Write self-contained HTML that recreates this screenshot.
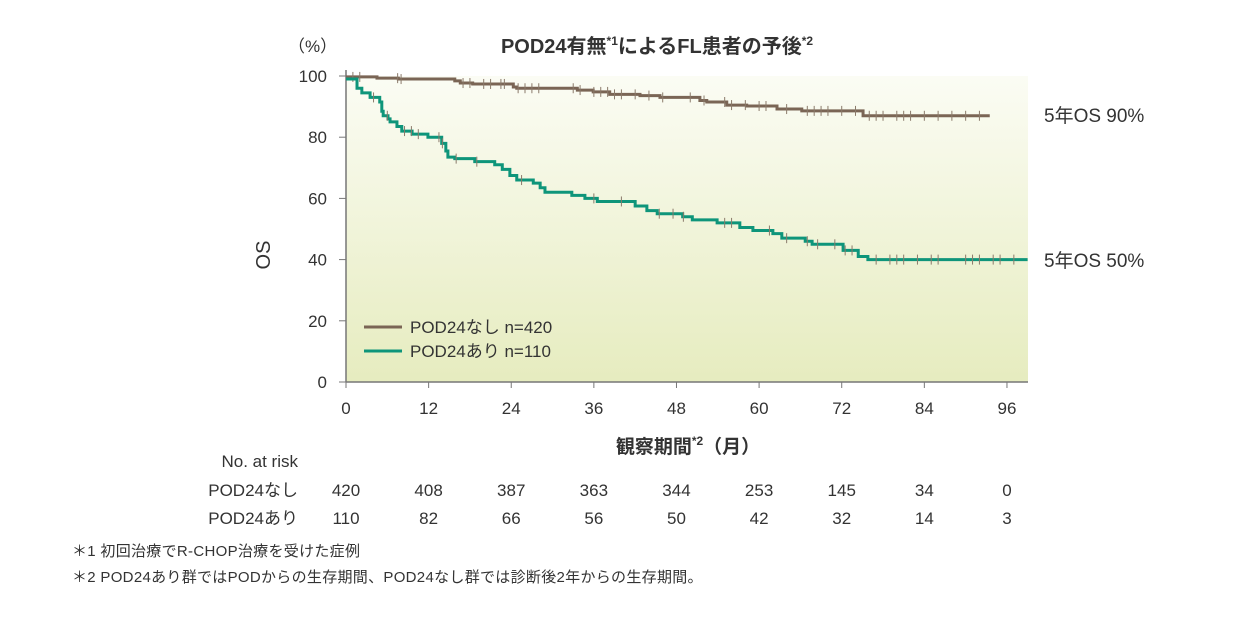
<!DOCTYPE html>
<html><head><meta charset="utf-8">
<style>
body{margin:0;width:1236px;height:625px;background:#fff;overflow:hidden;font-family:"Liberation Sans","Noto Sans CJK JP",sans-serif;color:#333}
svg text{font-family:"Liberation Sans","Noto Sans CJK JP",sans-serif;fill:#333}
</style></head><body>
<svg id="chart" width="1236" height="625" viewBox="0 0 1236 625">
<defs><linearGradient id="bg" x1="0" y1="0" x2="0" y2="1"><stop offset="0" stop-color="#fbfcf4"/><stop offset="1" stop-color="#e6ecbf"/></linearGradient></defs>
<rect x="346" y="76" width="682" height="306" fill="url(#bg)"/>
<text x="657" y="53" text-anchor="middle" font-size="20" font-weight="bold">POD24有無<tspan font-size="12" dy="-8">*1</tspan><tspan dy="8">によるFL患者の予後</tspan><tspan font-size="12" dy="-8">*2</tspan></text>
<text x="288" y="52" font-size="17">（%）</text>
<text transform="translate(270,255) rotate(-90)" text-anchor="middle" font-size="20">OS</text>
<text x="688" y="453" text-anchor="middle" font-size="19" font-weight="bold">観察期間<tspan font-size="12" dy="-8">*2</tspan><tspan dy="8">（月）</tspan></text>
<g id="axes"></g>
<g id="series"></g>
<g>
<line x1="364" y1="327" x2="402" y2="327" stroke="#7a6555" stroke-width="3"/>
<text x="410" y="333" font-size="17">POD24なし n=420</text>
<line x1="364" y1="351" x2="402" y2="351" stroke="#0e957a" stroke-width="3"/>
<text x="410" y="357" font-size="17">POD24あり n=110</text>
</g>
<text x="1044" y="122" font-size="19">5年OS 90%</text>
<text x="1044" y="267" font-size="19">5年OS 50%</text>
<text x="298" y="467" text-anchor="end" font-size="17">No. at risk</text>
<text x="298" y="496" text-anchor="end" font-size="17">POD24なし</text>
<text x="298" y="524" text-anchor="end" font-size="17">POD24あり</text>
<g id="risk"></g>
<text x="72" y="556" font-size="15" letter-spacing="0.3">＊1  初回治療でR-CHOP治療を受けた症例</text>
<text x="72" y="582" font-size="15" letter-spacing="0.3">＊2  POD24あり群ではPODからの生存期間、POD24なし群では診断後2年からの生存期間。</text>
</svg>
<script>
const xTicks=[0,12,24,36,48,60,72,84,96];
const yTicks=[0,20,40,60,80,100];
const noTimes=[0,4.5,7.6,15.8,16.6,18.4,24.3,24.8,33.6,35.9,38.3,42.7,45.6,51.4,52.4,55.3,58.2,62.6,66.2,75.1];
const noVals=[99.7,99.3,99,98.4,97.7,97.4,96.4,96,95.4,94.8,94,93.6,93,92,91.5,90.5,90.2,89.2,88.6,87];
const noEnd=93.5;
const yesTimes=[0,1.6,2.3,3.5,4.9,5.2,5.4,6.1,6.4,7.4,8.1,9.6,11.9,13.9,14.5,14.8,15.8,18.7,21.6,22.7,23.8,24.8,27.2,28.2,28.9,32.8,34.7,36.5,42,43.7,45.2,48.9,50.3,53.9,57.2,59.1,62,63.3,66.7,67.7,72.2,74.4,75.8];
const yesVals=[99,96,94.5,93,91.5,88.5,87,86,85,83.5,82,81,80,78,75.5,73.5,73,72,71,69.5,67.5,66,65,63.5,62,61,60,59,57.5,56,55,54,53,52,50.5,49.5,48.5,47,46,45,43,41,40];
const yesEnd=99;
const noCensor=[1,2,7.5,8,17,18,20,21,22.5,23,25,26,27,28,33,34,36,37,38,39,40,42,44,46,50,52,55,56,58,60,61,64,67,68,69,70,72,74,76,77,78,80,81,82,84,86,88,90,92];
const yesCensor=[4,6,8.5,9.5,10.5,13.5,14,16,19,25.5,36,40,45.5,47.5,49,55,56,61.5,64,67,68.5,71,72.5,73.5,77,79,80,81,83,85,86,90,91,92,94,95,97];
const riskNo=[420,408,387,363,344,253,145,34,0];
const riskYes=[110,82,66,56,50,42,32,14,3];
const NS='http://www.w3.org/2000/svg';
const X=m=>346+m*6.885, Y=v=>382-v*3.06;
function mk(tag,attrs,parent){const e=document.createElementNS(NS,tag);for(const k in attrs)e.setAttribute(k,attrs[k]);parent.appendChild(e);return e;}
const axes=document.getElementById('axes'),series=document.getElementById('series'),risk=document.getElementById('risk');
let a=mk('line',{x1:346,y1:70,x2:346,y2:382,stroke:'#777','stroke-width':1.5},axes);

a=mk('line',{x1:346,y1:382,x2:1028,y2:382,stroke:'#777','stroke-width':1.5},axes);

yTicks.forEach(v=>{mk('line',{x1:339,y1:Y(v),x2:346,y2:Y(v),stroke:'#777'},axes);
const t=mk('text',{x:327,y:Y(v)+6,'text-anchor':'end','font-size':17},axes);t.textContent=v;

});
xTicks.forEach((m,i)=>{mk('line',{x1:X(m),y1:382,x2:X(m),y2:388,stroke:'#777'},axes);
const t=mk('text',{x:X(m),y:414,'text-anchor':'middle','font-size':17},axes);t.textContent=m;


let r=mk('text',{x:X(m),y:496,'text-anchor':'middle','font-size':17},risk);r.textContent=riskNo[i];


r=mk('text',{x:X(m),y:524,'text-anchor':'middle','font-size':17},risk);r.textContent=riskYes[i];

});
function stepVal(ts,vs,m){let v=vs[0];for(let i=0;i<ts.length;i++){if(ts[i]<=m)v=vs[i];}return v;}
function draw(ts,vs,end,cens,col,name){
let d='M'+X(ts[0])+','+Y(vs[0]);
for(let i=1;i<ts.length;i++){d+=' H'+X(ts[i])+' V'+Y(vs[i]);}
d+=' H'+X(end);
const p=mk('path',{d:d,fill:'none',stroke:col,'stroke-width':3},series);


cens.forEach(m=>{if(m>end)return;const y=Y(stepVal(ts,vs,m));
const c=mk('line',{x1:X(m),y1:y-5,x2:X(m),y2:y+5,stroke:'#8a7a6a','stroke-width':1},series);

});}
draw(noTimes,noVals,noEnd,noCensor,'#7a6555','line-no-pod24');
draw(yesTimes,yesVals,yesEnd,yesCensor,'#0e957a','line-pod24');
</script>
</body></html>
